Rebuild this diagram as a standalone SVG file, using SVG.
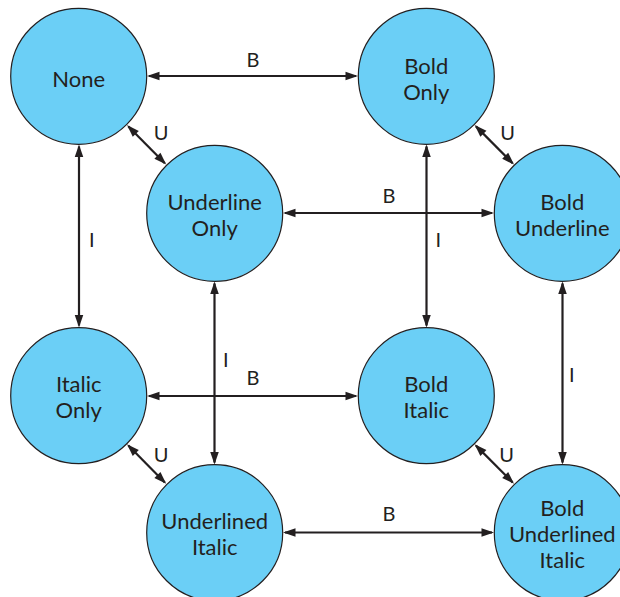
<svg xmlns="http://www.w3.org/2000/svg" width="620" height="597" viewBox="0 0 620 597">
<style>
.node circle{fill:#6BCFF6;stroke:#231F20;stroke-width:1.2}
.node text{font-family:Lato,"Open Sans","Liberation Sans",sans-serif;font-size:22px;fill:#231F20;text-anchor:middle}
.edge line{stroke:#231F20;stroke-width:2.2;fill:none;marker-start:url(#ah);marker-end:url(#ah)}
.lbl{font-family:Lato,"Open Sans","Liberation Sans",sans-serif;font-size:20px;fill:#231F20;text-anchor:middle}
</style>
<defs>
<marker id="ah" markerUnits="userSpaceOnUse" markerWidth="13" markerHeight="9" refX="10.5" refY="4.25" orient="auto-start-reverse" overflow="visible">
<path d="M0,0 L12.5,4.25 L0,8.5 Z" fill="#231F20"/>
</marker>
</defs>
<rect width="620" height="597" fill="#FFFFFF"/>
<g id="connectors" class="edge">
<line x1="149" y1="76" x2="356" y2="76"/>
<line x1="285" y1="213" x2="492" y2="213"/>
<line x1="149" y1="396" x2="356" y2="396"/>
<line x1="285" y1="532.5" x2="492" y2="532.5"/>
<line x1="79" y1="146.5" x2="79" y2="325.5"/>
<line x1="214.5" y1="283.5" x2="214.5" y2="462.5"/>
<line x1="426.5" y1="146.5" x2="426.5" y2="325.5"/>
<line x1="562.5" y1="283.5" x2="562.5" y2="462.5"/>
<line x1="128.4" y1="126.4" x2="164.8" y2="163.2"/>
<line x1="476" y1="126.4" x2="512.6" y2="163.2"/>
<line x1="128.4" y1="445.6" x2="164.8" y2="482.4"/>
<line x1="476" y1="445.6" x2="512.6" y2="482.4"/>
</g>
<g id="labels">
<text class="lbl" x="253" y="67">B</text>
<text class="lbl" x="389" y="203">B</text>
<text class="lbl" x="253" y="385">B</text>
<text class="lbl" x="389" y="521">B</text>
<text class="lbl" x="91.7" y="247">I</text>
<text class="lbl" x="225.7" y="367">I</text>
<text class="lbl" x="438.3" y="247">I</text>
<text class="lbl" x="571.7" y="382">I</text>
<text class="lbl" x="161" y="140">U</text>
<text class="lbl" x="507.5" y="140">U</text>
<text class="lbl" x="161" y="462">U</text>
<text class="lbl" x="506.5" y="462">U</text>
</g>
<g id="none" class="node">
<circle cx="78.7" cy="76.3" r="68"/>
<text x="78.7" y="87.3">None</text>
</g>
<g id="bold-only" class="node">
<circle cx="426.3" cy="76.3" r="68"/>
<text x="426.3" y="74">Bold</text>
<text x="426.3" y="100">Only</text>
</g>
<g id="underline-only" class="node">
<circle cx="214.7" cy="213.3" r="68"/>
<text x="214.7" y="210">Underline</text>
<text x="214.7" y="236">Only</text>
</g>
<g id="bold-underline" class="node">
<circle cx="562.3" cy="213.3" r="68"/>
<text x="562.3" y="210">Bold</text>
<text x="562.3" y="236">Underline</text>
</g>
<g id="italic-only" class="node">
<circle cx="78.7" cy="395.7" r="68"/>
<text x="78.7" y="392">Italic</text>
<text x="78.7" y="418">Only</text>
</g>
<g id="bold-italic" class="node">
<circle cx="426.3" cy="395.7" r="68"/>
<text x="426.3" y="392">Bold</text>
<text x="426.3" y="418">Italic</text>
</g>
<g id="underlined-italic" class="node">
<circle cx="214.7" cy="532.7" r="68"/>
<text x="214.7" y="529">Underlined</text>
<text x="214.7" y="555">Italic</text>
</g>
<g id="bold-underlined-italic" class="node">
<circle cx="562.3" cy="532.7" r="68"/>
<text x="562.3" y="515.5">Bold</text>
<text x="562.3" y="542">Underlined</text>
<text x="562.3" y="568">Italic</text>
</g>
</svg>
